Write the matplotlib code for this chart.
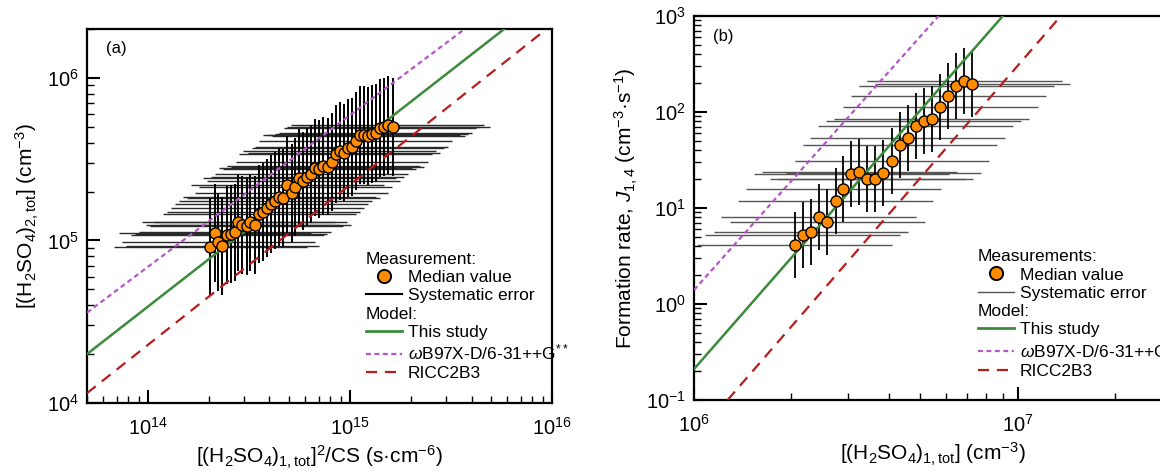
import matplotlib
matplotlib.use("Agg")
import numpy as np
import matplotlib.pyplot as plt
from matplotlib.lines import Line2D
from matplotlib.ticker import LogLocator, LogFormatterSciNotation, NullFormatter

plt.rcParams["font.family"] = ["Liberation Sans", "DejaVu Sans"]
plt.rcParams["mathtext.fontset"] = "custom"
plt.rcParams["mathtext.rm"] = "Liberation Sans"
plt.rcParams["mathtext.it"] = "Liberation Sans:italic"
plt.rcParams["mathtext.bf"] = "Liberation Sans:bold"
plt.rcParams["axes.unicode_minus"] = False

# ---- panel (a): dimer vs monomer^2/CS ----
a_x = [2.04e14, 2.15e14, 2.23e14, 2.34e14, 2.47e14, 2.58e14, 2.70e14, 2.80e14,
       2.94e14, 3.08e14, 3.22e14, 3.39e14, 3.56e14, 3.72e14, 3.90e14, 4.08e14,
       4.27e14, 4.47e14, 4.68e14, 4.89e14, 5.15e14, 5.36e14, 5.61e14, 5.87e14,
       6.15e14, 6.43e14, 6.73e14, 7.05e14, 7.38e14, 7.76e14, 8.15e14, 8.50e14,
       8.89e14, 9.34e14, 9.78e14, 1.02e15, 1.07e15, 1.12e15, 1.17e15, 1.23e15,
       1.28e15, 1.34e15, 1.41e15, 1.47e15, 1.54e15, 1.64e15]
a_y = [9.16e4, 1.11e5, 9.8e4, 9.25e4, 1.08e5, 1.09e5, 1.12e5, 1.29e5,
       1.25e5, 1.22e5, 1.29e5, 1.25e5, 1.46e5, 1.50e5, 1.58e5, 1.68e5,
       1.76e5, 1.86e5, 1.83e5, 2.20e5, 1.97e5, 2.14e5, 2.41e5, 2.33e5,
       2.47e5, 2.57e5, 2.81e5, 2.75e5, 2.87e5, 2.85e5, 3.04e5, 3.41e5,
       3.57e5, 3.47e5, 3.69e5, 3.78e5, 4.11e5, 4.46e5, 4.46e5, 4.40e5,
       4.52e5, 4.61e5, 4.90e5, 5.01e5, 5.12e5, 4.97e5]
a_xfac = 3.0   # systematic error factor (x)
a_yfac = 2.0   # systematic error factor (y)

# model lines (a): end points
a_study_x = [5e13, 5.8e15]
a_study_y = [2.0e4, 2e6]
a_wb_x = [5e13, 3.7e15]
a_wb_y = [3.6e4, 2e6]
a_ricc_x = [5e13, 9.4e15]
a_ricc_y = [1.15e4, 2e6]

# ---- panel (b): formation rate vs monomer ----
b_x = [2.05e6, 2.17e6, 2.30e6, 2.43e6, 2.58e6, 2.74e6, 2.89e6, 3.06e6,
       3.24e6, 3.43e6, 3.63e6, 3.85e6, 4.09e6, 4.33e6, 4.58e6, 4.84e6,
       5.12e6, 5.43e6, 5.77e6, 6.10e6, 6.46e6, 6.84e6, 7.24e6]
b_y = [4.12, 5.23, 5.58, 8.0, 7.15, 11.8, 15.9, 22.6,
       23.7, 20.0, 20.0, 23.3, 31.1, 45.0, 53.2, 72.0,
       80.6, 85.2, 113, 147, 185, 210, 197]
b_xfac = 2.0
b_yfac = 2.2

b_study_x = [1e6, 9.0e6]
b_study_y = [0.21, 1e3]
b_wb_x = [1e6, 5.7e6]
b_wb_y = [1.4, 1e3]
b_ricc_x = [1.27e6, 1.36e7]
b_ricc_y = [0.1, 1e3]

orange = "#FF8C00"
green = "#3C8A3C"
purple = "#B455C8"
red = "#B81C1C"
fs_tick = 14.5
fs_lab = 15
fs_leg = 12.5


def style_axis(ax):
    for s in ax.spines.values():
        s.set_linewidth(1.6)
    ax.tick_params(which="major", direction="in", length=9.5, width=1.5,
                   labelsize=fs_tick, top=False, right=False)
    ax.tick_params(which="minor", direction="in", length=4.8, width=1.0,
                   top=False, right=False)
    ax.tick_params(axis="x", which="major", pad=10)
    ax.tick_params(axis="y", which="major", pad=6)
    for axis in (ax.xaxis, ax.yaxis):
        axis.set_major_locator(LogLocator(base=10, numticks=20))
        axis.set_minor_locator(LogLocator(base=10, subs=np.arange(2, 10), numticks=20))
        axis.set_major_formatter(LogFormatterSciNotation())
        axis.set_minor_formatter(NullFormatter())


def draw_points(ax, x, y, xfac, yfac, hcol, hlw, vlw):
    x = np.array(x)
    y = np.array(y)
    ax.errorbar(x, y, xerr=[x - x / xfac, x * xfac - x], fmt="none",
                ecolor=hcol, elinewidth=hlw, capsize=0, zorder=2)
    ax.errorbar(x, y, yerr=[y - y / yfac, y * yfac - y], fmt="none",
                ecolor="black", elinewidth=vlw, capsize=0, zorder=3)
    ax.plot(x, y, "o", ms=8, mfc=orange, mec="black", mew=1.0, zorder=5)


def make_legend(ax, header1, anchor, syscol, syslw):
    blank = Line2D([], [], linestyle="none")
    handles = [blank,
               Line2D([], [], ls="none", marker="o", ms=9.5, mfc=orange, mec="black", mew=1.4),
               Line2D([], [], color=syscol, lw=syslw),
               blank,
               Line2D([], [], color=green, lw=2.0),
               Line2D([], [], color=purple, lw=1.6, dashes=(2.2, 1.6)),
               Line2D([], [], color=red, lw=1.6, dashes=(5, 3.5))]
    labels = [header1, "Median value", "Systematic error", "Model:",
              "This study", r"$\omega$B97X-D/6-31++G$^{**}$", "RICC2B3"]
    hl, tp = 2.1, 0.3
    leg = ax.legend(handles, labels, loc="upper left", bbox_to_anchor=anchor,
                    frameon=False, fontsize=fs_leg, handlelength=hl,
                    handletextpad=tp, labelspacing=0.18, borderpad=0,
                    borderaxespad=0)
    shift = (hl + tp) * fs_leg * ax.figure.dpi / 72
    for i in (0, 3):
        leg.get_texts()[i].set_x(-shift)
    return leg


fig = plt.figure(figsize=(11.6, 4.72), dpi=100)

# panel (a)
ax1 = fig.add_axes([87 / 1160, 69 / 472, 465 / 1160, 374 / 472])
ax1.set_xscale("log")
ax1.set_yscale("log")
ax1.set_xlim(5e13, 1e16)
ax1.set_ylim(1e4, 2e6)
ax1.plot(a_study_x, a_study_y, color=green, lw=1.8, zorder=4)
ax1.plot(a_wb_x, a_wb_y, color=purple, lw=1.6, dashes=(2.2, 1.6), zorder=4)
ax1.plot(a_ricc_x, a_ricc_y, color=red, lw=1.6, dashes=(5, 3.5), zorder=4)
draw_points(ax1, a_x, a_y, a_xfac, a_yfac, "#2a2a2a", 1.0, 1.4)
style_axis(ax1)
ax1.set_xlabel(r"[(H$_2$SO$_4$)$_{1,\mathrm{tot}}$]$^2$/CS (s·cm$^{-6}$)", fontsize=fs_lab)
ax1.set_ylabel(r"[(H$_2$SO$_4$)$_{2,\mathrm{tot}}$] (cm$^{-3}$)", fontsize=fs_lab)
ax1.text(0.04, 0.947, "(a)", transform=ax1.transAxes, fontsize=12, va="center")
make_legend(ax1, "Measurement:", (0.600, 0.405), "black", 1.5)

# panel (b)
ax2 = fig.add_axes([694 / 1160, 72 / 472, 478 / 1160, 384 / 472])
ax2.set_xscale("log")
ax2.set_yscale("log")
ax2.set_xlim(1e6, 3e7)
ax2.set_ylim(0.1, 1e3)
ax2.plot(b_study_x, b_study_y, color=green, lw=1.8, zorder=4)
ax2.plot(b_wb_x, b_wb_y, color=purple, lw=1.6, dashes=(2.2, 1.6), zorder=4)
ax2.plot(b_ricc_x, b_ricc_y, color=red, lw=1.6, dashes=(5, 3.5), zorder=4)
draw_points(ax2, b_x, b_y, b_xfac, b_yfac, "#555555", 1.0, 1.3)
style_axis(ax2)
ax2.set_xlabel(r"[(H$_2$SO$_4$)$_{1,\mathrm{tot}}$] (cm$^{-3}$)", fontsize=fs_lab)
ax2.set_ylabel(r"Formation rate, $J_{1,4}$ (cm$^{-3}$·s$^{-1}$)", fontsize=fs_lab)
ax2.text(0.039, 0.946, "(b)", transform=ax2.transAxes, fontsize=12, va="center")
make_legend(ax2, "Measurements:", (0.594, 0.393), "#555555", 1.0)

fig.savefig("out.png", dpi=100)
